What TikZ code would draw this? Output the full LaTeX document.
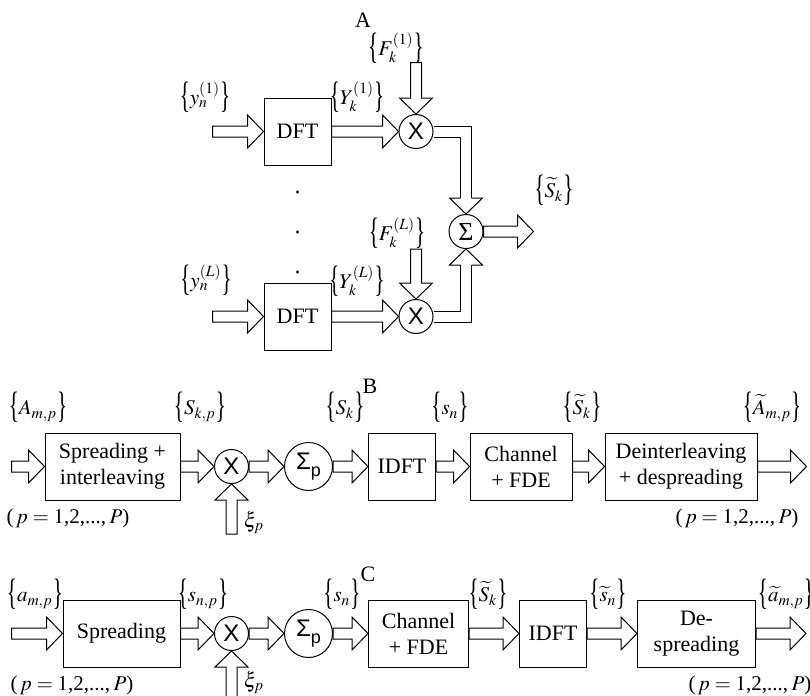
\documentclass[tikz,border=0pt]{standalone}
\usepackage{mathptmx}
\usepackage{fontspec}
\setmainfont{Liberation Serif}
\setsansfont{Liberation Sans}
\usepackage{graphicx}
\usepackage{tikz}
\usetikzlibrary{positioning, calc}

\newcommand{\txtsize}{\fontsize{11pt}{13pt}\selectfont}
\newcommand{\lblsize}{\fontsize{10.5pt}{12pt}\selectfont}
\newcommand{\sset}[1]{\raisebox{-1.2pt}{\scalebox{1}[1.75]{\{}}$#1$\raisebox{-1.2pt}{\scalebox{1}[1.75]{\}}}}
\newcommand{\prange}{($\,p=1$,2,...,\,$P$)}
\newcommand{\sump}{Σ\raisebox{-0.5ex}{\small p}}

\begin{document}
\begin{tikzpicture}[
    x=1pt, y=-1pt,
    node distance=16.75pt,
    box/.style={rectangle, draw, line width=0.5pt, minimum height=33.5pt, inner sep=1pt, align=center, font=\txtsize},
    mult/.style={circle, draw, line width=0.5pt, minimum size=17pt, inner sep=0pt, font=\sffamily\fontsize{12pt}{12pt}\selectfont},
    adder/.style={circle, draw, line width=0.5pt, minimum size=24pt, inner sep=0pt, font=\sffamily\fontsize{12pt}{12pt}\selectfont},
    lbl/.style={inner sep=0pt, font=\lblsize},
    pipe/.style={draw, line width=0.5pt, to path={
        ($(\tikztostart)!2.75pt!90:(\tikztotarget)$)
        -- ($($(\tikztotarget)!8pt!(\tikztostart)$)!2.75pt!90:(\tikztotarget)$)
        -- ($($(\tikztotarget)!8pt!(\tikztostart)$)!8.25pt!90:(\tikztotarget)$)
        -- (\tikztotarget)
        -- ($($(\tikztotarget)!8pt!(\tikztostart)$)!8.25pt!-90:(\tikztotarget)$)
        -- ($($(\tikztotarget)!8pt!(\tikztostart)$)!2.75pt!-90:(\tikztotarget)$)
        -- ($(\tikztostart)!2.75pt!-90:(\tikztotarget)$) -- cycle}},
    pipehead/.style={draw, line width=0.5pt, to path={
        ($(\tikztostart)!2.75pt!90:(\tikztotarget)$)
        -- ($(\tikztostart)!8.25pt!90:(\tikztotarget)$)
        -- (\tikztotarget)
        -- ($(\tikztostart)!8.25pt!-90:(\tikztotarget)$)
        -- ($(\tikztostart)!2.75pt!-90:(\tikztotarget)$)}},
    duct/.style={draw, line width=0.5pt, double, double distance=5pt}
]
    \useasboundingbox (0,0) rectangle (405,348);

    % A: L branches, DFT and weighting, then sum
    \node (lblA) [lbl, font=\txtsize] at (181.5,10) {A};
    \node (dft1) [box, minimum width=33.5pt] at (148.75,65.75) {DFT};
    \node (dft2) [box, minimum width=33.5pt, below=58.5pt of dft1] {DFT};
    \node (x1) [mult, right=33.5pt of dft1] {X};
    \node (x2) [mult, right=33.5pt of dft2] {X};
    \node (sig) [mult, font=\fontsize{13pt}{13pt}\selectfont] at ($(x1)+(25,50)$) {Σ};

    \coordinate [left=25.5pt of dft1] (in1);
    \coordinate [left=25.5pt of dft2] (in2);
    \coordinate [above=25.75pt of x1] (f1);
    \coordinate [above=25pt of x2] (fL);
    \coordinate [right=25pt of sig] (sout);
    \coordinate (hd1) at ($(sig.north)+(0,8pt)$);
    \coordinate (hd2) at ($(sig.south)+(0,-8pt)$);

    \node (ly1) [lbl] at (102.5,48.5) {\sset{y_n^{(1)}}};
    \node (lY1) [lbl] at (178.5,48.5) {\sset{Y_k^{(1)}}};
    \node (lF1) [lbl] at (198,24) {\sset{F_k^{(1)}}};
    \node (lFL) [lbl] at (198.5,116.5) {\sset{F_k^{(L)}}};
    \node (lyL) [lbl] at (103,140) {\sset{y_n^{(L)}}};
    \node (lYL) [lbl] at (178.5,140.5) {\sset{Y_k^{(L)}}};
    \node (lSa) [lbl] at (277,95) {\sset{\widetilde{S}_k}};
    \foreach \yy in {96,116,136}
        \fill (148.75,\yy) circle (0.8pt);

    \draw [pipe] (in1) to (dft1.west);
    \draw [pipe] (dft1.east) to (x1.west);
    \draw [pipe] (f1) to (x1.north);
    \draw [duct] (x1.east) -| (hd1);
    \draw [pipehead] (hd1) to (sig.north);
    \draw [pipe] (in2) to (dft2.west);
    \draw [pipe] (dft2.east) to (x2.west);
    \draw [pipe] (fL) to (x2.north);
    \draw [duct] (x2.east) -| (hd2);
    \draw [pipehead] (hd2) to (sig.south);
    \draw [pipe] (sig.east) to (sout);

    % B: spreading + interleaving chain
    \node (lblB) [lbl, font=\txtsize] at (185,193) {B};
    \node (spr) [box, minimum width=67.5pt] at (56.25,233.25) {Spreading +\\interleaving};
    \node (xb) [mult, right=of spr] {X};
    \node (sigb) [adder, right=17.5pt of xb] {\sump};
    \node (idft) [box, minimum width=33.5pt, right=17.5pt of sigb] {IDFT};
    \node (chan) [box, minimum width=51pt, right=of idft] {Channel\\+ FDE};
    \node (deint) [box, minimum width=76pt, right=16pt of chan] {Deinterleaving\\+ despreading};
    \coordinate [left=16.5pt of spr] (inb);
    \coordinate [right=24.5pt of deint] (outb);
    \coordinate [below=25pt of xb] (xib);

    \node (lAmp) [lbl] at (19,203.5) {\sset{A_{m,p}}};
    \node (lSkp) [lbl] at (100,203.5) {\sset{S_{k,p}}};
    \node (lSk) [lbl] at (172.5,203.5) {\sset{S_k}};
    \node (lsn) [lbl] at (225,203.5) {\sset{s_n}};
    \node (lStb) [lbl] at (291,203.5) {\sset{\widetilde{S}_k}};
    \node (lAt) [lbl] at (386,203.5) {\sset{\widetilde{A}_{m,p}}};
    \node (lpb1) [lbl] at (34,259) {\prange};
    \node (lpb2) [lbl] at (368.5,259) {\prange};
    \node (lxib) [lbl] at (127,261.5) {$\xi_p$};

    \draw [pipe] (inb) to (spr.west);
    \draw [pipe] (spr.east) to (xb.west);
    \draw [pipe] (xib) to (xb.south);
    \draw [pipe] (xb.east) to (sigb.west);
    \draw [pipe] (sigb.east) to (idft.west);
    \draw [pipe] (idft.east) to (chan.west);
    \draw [pipe] (chan.east) to (deint.west);
    \draw [pipe] (deint.east) to (outb);

    % C: spreading only
    \node (lblC) [lbl, font=\txtsize] at (184,287) {C};
    \node (sprc) [box, minimum width=58.5pt] at (60.75,316.75) {Spreading};
    \node (xc) [mult, right=of sprc] {X};
    \node (sigc) [adder, right=17.5pt of xc] {\sump};
    \node (chanc) [box, minimum width=50pt, right=17.5pt of sigc] {Channel\\+ FDE};
    \node (idftc) [box, minimum width=33.5pt, right=25pt of chanc] {IDFT};
    \node (desp) [box, minimum width=59pt, right=25pt of idftc] {De-\\spreading};
    \coordinate [left=25.5pt of sprc] (inc);
    \coordinate [right=25pt of desp] (outc);
    \coordinate [below=25pt of xc] (xic);

    \node (lamp) [lbl] at (17.5,297) {\sset{a_{m,p}}};
    \node (lsnp) [lbl] at (101.5,297) {\sset{s_{n,p}}};
    \node (lsnc) [lbl] at (171,297) {\sset{s_n}};
    \node (lStc) [lbl] at (244,297) {\sset{\widetilde{S}_k}};
    \node (lstn) [lbl] at (304,297) {\sset{\widetilde{s}_n}};
    \node (lat) [lbl] at (393,297) {\sset{\widetilde{a}_{m,p}}};
    \node (lpc1) [lbl] at (36,342.5) {\prange};
    \node (lpc2) [lbl] at (375,342.5) {\prange};
    \node (lxic) [lbl] at (127,341.5) {$\xi_p$};

    \draw [pipe] (inc) to (sprc.west);
    \draw [pipe] (sprc.east) to (xc.west);
    \draw [pipe] (xic) to (xc.south);
    \draw [pipe] (xc.east) to (sigc.west);
    \draw [pipe] (sigc.east) to (chanc.west);
    \draw [pipe] (chanc.east) to (idftc.west);
    \draw [pipe] (idftc.east) to (desp.west);
    \draw [pipe] (desp.east) to (outc);

\end{tikzpicture}
\end{document}
